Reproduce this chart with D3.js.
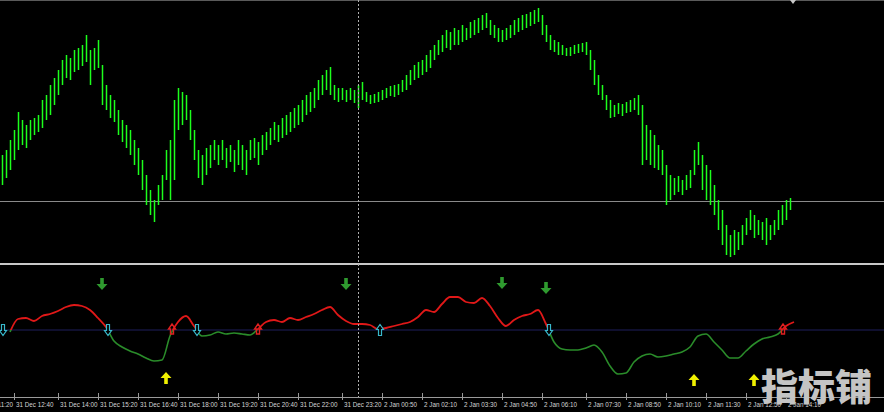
<!DOCTYPE html>
<html><head><meta charset="utf-8">
<script src="https://cdn.jsdelivr.net/npm/d3@7"></script>
<style>html,body{margin:0;padding:0;background:#000;overflow:hidden}</style>
</head><body><svg id="c" width="884" height="412"></svg>
<script>
// ---------- DATA ----------
const barHighs = [9145,9150,9160,9170,9188,9180,9175,9180,9182,9185,9200,9205,9215,9222,9230,9240,9245,9242,9250,9252,
9255,9265,9250,9252,9260,9235,9215,9205,9200,9190,9180,9175,9170,9160,9152,9140,9125,9110,9100,9115,
9125,9150,9160,9200,9212,9208,9205,9190,9170,9150,9145,9152,9155,9160,9155,9160,9152,9155,9150,9160,
9155,9150,9160,9162,9158,9165,9168,9172,9178,9175,9182,9185,9188,9192,9195,9200,9205,9208,9212,9220,
9225,9230,9233,9215,9212,9212,9210,9212,9210,9215,9218,9208,9205,9206,9208,9210,9212,9214,9215,9216,
9220,9225,9230,9235,9238,9240,9245,9250,9255,9260,9265,9270,9268,9272,9270,9275,9272,9278,9280,9282,
9285,9287,9280,9275,9272,9270,9272,9275,9280,9282,9285,9286,9288,9290,9292,9285,9275,9265,9260,9258,
9255,9252,9253,9255,9256,9257,9258,9250,9240,9225,9215,9205,9200,9195,9197,9196,9198,9200,9202,9205,
9195,9175,9170,9165,9155,9150,9135,9125,9122,9124,9120,9125,9130,9150,9158,9145,9135,9130,9115,9100,
9090,9075,9065,9070,9068,9075,9082,9090,9085,9080,9078,9082,9075,9080,9090,9095,9100,9102];
const barLows = [9115,9122,9130,9140,9150,9155,9152,9160,9165,9168,9172,9180,9185,9195,9205,9215,9222,9220,9228,9230,
9234,9238,9215,9230,9232,9195,9190,9182,9178,9165,9158,9152,9145,9135,9125,9110,9095,9085,9078,9095,
9100,9120,9100,9120,9170,9175,9180,9160,9140,9122,9115,9125,9132,9140,9135,9140,9132,9138,9128,9135,
9130,9125,9140,9142,9135,9145,9150,9155,9160,9158,9162,9165,9168,9172,9175,9178,9185,9188,9192,9200,
9205,9210,9205,9200,9198,9200,9198,9200,9197,9192,9200,9198,9196,9197,9198,9200,9202,9204,9203,9205,
9208,9210,9215,9220,9222,9225,9228,9232,9240,9245,9248,9252,9250,9255,9255,9258,9260,9262,9265,9267,
9270,9272,9265,9262,9258,9258,9260,9262,9265,9268,9270,9272,9274,9276,9278,9265,9258,9250,9248,9245,
9245,9244,9244,9246,9247,9248,9245,9230,9215,9205,9200,9190,9182,9183,9186,9184,9187,9188,9190,9185,
9135,9140,9135,9132,9130,9125,9095,9100,9105,9108,9105,9110,9112,9125,9135,9110,9100,9095,9085,9070,
9055,9045,9043,9045,9050,9055,9065,9070,9062,9065,9060,9055,9060,9065,9070,9075,9080,9090];
const levelPrice = 9099;          // horizontal price line
const cursorBar = 89;             // dotted vertical cursor line

// oscillator: one value every 2 bars, starting at bar 2
const oscStartBar = 2, oscStep = 2;
const oscValues = [-2,11,12,9,14,16,19,23,25,24, 20,12,3,-11,-17,-21,-24,-28,-31,-30,
-6,8,14,4,-6,-5,-2,-4,-3,-4, -5,1,8,10,8,12,10,13,16,20, 23,15,9,6,6,5,1,2,4,6,
8,13,20,18,26,33,33,28,27,32, 24,12,4,10,14,16,20,6,-12,-19, -20,-20,-18,-15,-22,-36,-44,-43,-32,-26,
-24,-27,-26,-24,-22,-17,-6,-4,-12,-20, -28,-28,-21,-14,-9,-7,-4,4,8];

const sellArrows = [{bar:25, v:46},{bar:86, v:46},{bar:125, v:47},{bar:136, v:42}];
const buyArrows  = [{bar:41, v:-48},{bar:173, v:-50},{bar:188, v:-50}];
const crossDownMarks = [0.25, 26.5, 48.75, 136.75];
const crossUpMarks = [94.5];
const redUpMarks = [42.5, 64, 195.25];

const tickBars = [-7,3,14,24,34,44,54,64,74,85,95,105,115,125,135,146,156,166,176,186,196];
const tickLabels = ["31 Dec 11:20","31 Dec 12:40","31 Dec 14:00","31 Dec 15:20","31 Dec 16:40","31 Dec 18:00",
"31 Dec 19:20","31 Dec 20:40","31 Dec 22:00","31 Dec 23:20","2 Jan 00:50","2 Jan 02:10","2 Jan 03:30",
"2 Jan 04:50","2 Jan 06:10","2 Jan 07:30","2 Jan 08:50","2 Jan 10:10","2 Jan 11:30","2 Jan 12:50","2 Jan 14:10"];
const watermark = "指标铺";

// ---------- LAYOUT ----------
const W = 884, H = 412;
const mainTop = 0, mainBottom = 262;
const sepY = 264;
const oscTop = 266, oscBottom = 396;
const axisY = 397;

const svg = d3.select("#c");
svg.append("rect").attr("width", W).attr("height", H).attr("fill", "#000");

const x = d3.scaleLinear().domain([0, barHighs.length - 1]).range([2, 790]);
const y = d3.scaleLinear().domain([9038, 9300]).range([mainBottom, mainTop]);
const yo = d3.scaleLinear().domain([-66, 64]).range([oscBottom, oscTop]);

// top border
svg.append("line").attr("x1",0).attr("x2",W).attr("y1",0.5).attr("y2",0.5).attr("stroke","#5a5a5a");

// price level line
const ly = Math.round(y(levelPrice))+0.5;
svg.append("line").attr("x1",0).attr("x2",W).attr("y1",ly).attr("y2",ly)
  .attr("stroke","#8a8a8a").attr("stroke-width",1);

// bars
const bars = barHighs.map((h,i)=>({i, h, l: barLows[i]}));
svg.append("g").selectAll("line").data(bars).join("line")
  .attr("x1", d=>Math.round(x(d.i))+0.5).attr("x2", d=>Math.round(x(d.i))+0.5)
  .attr("y1", d=>y(d.h)).attr("y2", d=>y(d.l))
  .attr("stroke", "#1cff1c").attr("stroke-width", 1.5);

// separator
svg.append("line").attr("x1",0).attr("x2",W).attr("y1",sepY).attr("y2",sepY).attr("stroke","#c8c8c8").attr("stroke-width",2);

// zero line
svg.append("line").attr("x1",0).attr("x2",W).attr("y1",yo(0)).attr("y2",yo(0)).attr("stroke","#1e1e5c").attr("stroke-width",1);

// oscillator line with red/green clipping
const osc = oscValues.map((v,k)=>({bar: oscStartBar + k*oscStep, v}));
const defs = svg.append("defs");
defs.append("clipPath").attr("id","above").append("rect").attr("x",0).attr("y",oscTop).attr("width",W).attr("height",yo(0)-oscTop);
defs.append("clipPath").attr("id","below").append("rect").attr("x",0).attr("y",yo(0)).attr("width",W).attr("height",oscBottom-yo(0)+2);
const lineGen = d3.line().x(d=>x(d.bar)).y(d=>yo(d.v)).curve(d3.curveMonotoneX);
svg.append("path").attr("d", lineGen(osc)).attr("fill","none").attr("stroke","#e01818").attr("stroke-width",1.8).attr("clip-path","url(#above)");
svg.append("path").attr("d", lineGen(osc)).attr("fill","none").attr("stroke","#2a8c2a").attr("stroke-width",1.6).attr("clip-path","url(#below)");

// arrow shapes
function arrowPath(cx, cy, dir, hw, sw, len, headLen) {
  const top = cy - dir*len/2, tip = cy + dir*len/2, hb = tip - dir*headLen;
  return `M${cx-sw},${top}L${cx+sw},${top}L${cx+sw},${hb}L${cx+hw},${hb}L${cx},${tip}L${cx-hw},${hb}L${cx-sw},${hb}Z`;
}
svg.append("g").selectAll("path").data(sellArrows).join("path")
  .attr("d", d=>arrowPath(x(d.bar), yo(d.v), 1, 5.5, 1.8, 12, 6)).attr("fill","#2f9a2f");
svg.append("g").selectAll("path").data(buyArrows).join("path")
  .attr("d", d=>arrowPath(x(d.bar), yo(d.v), -1, 5.5, 1.8, 12, 6)).attr("fill","#f0f000");
svg.append("g").selectAll("path").data(crossDownMarks).join("path")
  .attr("d", b=>arrowPath(x(b), yo(0), 1, 3.5, 1.5, 11, 5)).attr("fill","#000").attr("stroke","#38b8cc").attr("stroke-width",1.2);
svg.append("g").selectAll("path").data(crossUpMarks).join("path")
  .attr("d", b=>arrowPath(x(b), yo(0), -1, 3.5, 1.5, 11, 5)).attr("fill","#000").attr("stroke","#38b8cc").attr("stroke-width",1.2);
svg.append("g").selectAll("path").data(redUpMarks).join("path")
  .attr("d", b=>arrowPath(x(b), yo(0)-1, -1, 3.5, 1.5, 10, 5)).attr("fill","none").attr("stroke","#e02020").attr("stroke-width",1.4);

// cursor dotted vertical line
const cx0 = Math.round(x(cursorBar))+0.5;
svg.append("line").attr("x1",cx0).attr("x2",cx0)
  .attr("y1",0).attr("y2",axisY).attr("stroke","#b0b0b0").attr("stroke-dasharray","2,2");

// time axis
svg.append("line").attr("x1",0).attr("x2",W).attr("y1",axisY+0.5).attr("y2",axisY+0.5).attr("stroke","#9a9a9a");
const ticks = svg.append("g");
tickBars.forEach((b,i)=>{
  const tx = Math.round(x(b))+0.5;
  ticks.append("line").attr("x1",tx).attr("x2",tx).attr("y1",393).attr("y2",400).attr("stroke","#9a9a9a");
  ticks.append("text").attr("x",tx+1.5).attr("y",407).text(tickLabels[i])
    .attr("fill","#d4d4d4").attr("font-family","Liberation Sans, Arial, sans-serif").attr("font-size","6.3px");
});

// chart shift marker
svg.append("path").attr("d","M790,0L796,0L793,4Z").attr("fill","#c8c8c8");

// watermark
svg.append("text").attr("x",761).attr("y",401).text(watermark)
  .attr("font-family","Noto Sans CJK SC").attr("font-weight",900).attr("font-size","37px")
  .attr("fill","#c4c4c4");
</script></body></html>
